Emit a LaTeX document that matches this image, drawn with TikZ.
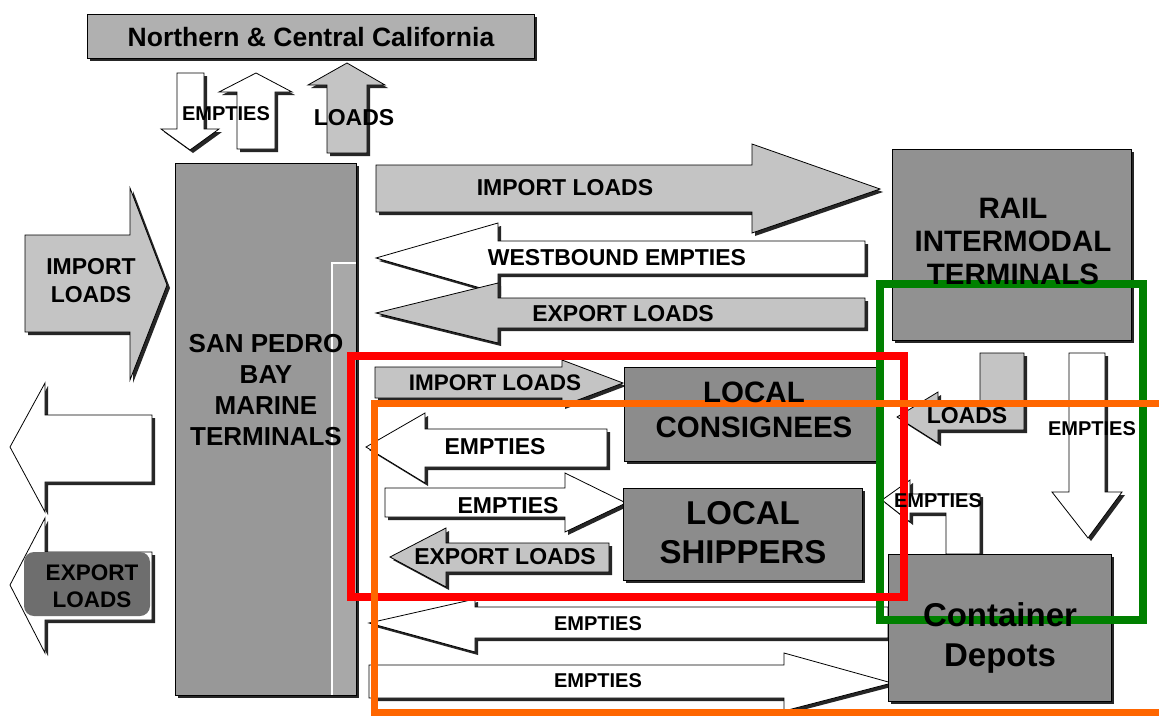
\documentclass[tikz,border=0pt]{standalone}
\usepackage{fontspec}
\setmainfont{Liberation Sans}
\usetikzlibrary{shadows}
\pgfdeclarelayer{fg}
\pgfsetlayers{main,fg}
\definecolor{topg}{RGB}{176,176,176}
\definecolor{spg}{RGB}{152,152,152}
\definecolor{spstrip}{RGB}{168,168,168}
\definecolor{argray}{RGB}{196,196,196}
\definecolor{boxgray}{RGB}{140,140,140}
\definecolor{railg}{RGB}{145,145,145}
\definecolor{blobg}{RGB}{110,110,110}
\definecolor{redf}{RGB}{255,0,0}
\definecolor{orangef}{RGB}{255,102,0}
\definecolor{greenf}{RGB}{0,128,0}
\tikzset{
  sh/.style={drop shadow={shadow xshift=3pt,shadow yshift=-3pt,opacity=1,fill=black!85}},
  boxg/.style={draw=black,line width=0.8pt,fill=#1,sh},
  arrw/.style={draw=black,line width=0.8pt,fill=white,sh},
  arrg/.style={draw=black,line width=0.8pt,fill=argray,sh},
  tx/.style args={#1/#2}{font=\bfseries\fontsize{#1}{#2}\selectfont,inner sep=0pt,align=center,text=black},
  frame/.style={draw=#1,line width=8pt}
}
\begin{document}
\begin{tikzpicture}[x=1pt,y=-1pt]
\useasboundingbox (0,0) rectangle (1159,715);
\fill[white] (0,0) rectangle (1159,715);

% ---------- top box
\draw[boxg=topg] (87,14) rectangle (534,58);

% ---------- vertical arrows under top box
\draw[arrw] (177,73) -- (204,73) -- (204,129) -- (219,129) -- (190,150) -- (161,129) -- (177,129) -- cycle;
\draw[arrw] (237,149) -- (237,92) -- (219,92) -- (256,73) -- (292,92) -- (275,92) -- (275,149) -- cycle;
\draw[arrg] (327,153) -- (327,85) -- (308,85) -- (347,63) -- (385,85) -- (367,85) -- (367,153) -- cycle;

% ---------- San Pedro Bay box
\draw[boxg=spg] (175,163) rectangle (356,695);
\fill[spstrip] (332,263) rectangle (356,695);
\draw[white,line width=1.2pt] (332,695) -- (332,263) -- (356,263);
\draw[black,line width=0.8pt] (175,163) rectangle (356,695);

% ---------- left arrows
\draw[arrg] (25,235) -- (130,235) -- (130,188) -- (167,285) -- (130,380) -- (130,332) -- (25,332) -- cycle;
\draw[arrw] (10,447) -- (45,383) -- (45,415) -- (152,415) -- (152,482) -- (45,482) -- (45,512) -- cycle;
\draw[arrw] (10,585) -- (45,518) -- (45,552) -- (152,552) -- (152,620) -- (45,620) -- (45,653) -- cycle;
\fill[blobg,rounded corners=10pt] (24,552) rectangle (150,616);

% ---------- rail terminal flows
\draw[arrg] (376,165) -- (752,165) -- (752,144) -- (880,189) -- (752,233) -- (752,212) -- (376,212) -- cycle;
\draw[arrw] (376,258) -- (498,223) -- (498,241) -- (865,241) -- (865,274) -- (498,274) -- (498,293) -- cycle;
\draw[arrg] (376,313) -- (498,283) -- (498,298) -- (865,298) -- (865,328) -- (498,328) -- (498,343) -- cycle;
\draw[boxg=railg] (892,149) rectangle (1131,340);

% ---------- local flows
\draw[arrg] (375,367) -- (562,367) -- (562,360) -- (623,383) -- (562,406) -- (562,398) -- (375,398) -- cycle;
\draw[arrw] (366,447) -- (425,413) -- (425,429) -- (607,429) -- (607,467) -- (425,467) -- (425,483) -- cycle;
\draw[arrw] (385,488) -- (565,488) -- (565,473) -- (626,503) -- (565,532) -- (565,517) -- (385,517) -- cycle;
\draw[arrg] (390,557) -- (446,528) -- (446,543) -- (609,543) -- (609,572) -- (446,572) -- (446,587) -- cycle;
\draw[boxg=boxgray] (624,367) rectangle (880,461);
\draw[boxg=boxgray] (623,488) rectangle (862,580);

% ---------- depot flows
\draw[arrw] (369,623) -- (475,599) -- (475,607) -- (888,607) -- (888,638) -- (475,638) -- (475,652) -- cycle;
\draw[arrw] (369,665) -- (784,665) -- (784,653) -- (892,683) -- (784,711) -- (784,698) -- (369,698) -- cycle;
\draw[arrg] (980,353) -- (1024,353) -- (1024,430) -- (938,430) -- (938,443) -- (897,417) -- (938,392) -- (938,405) -- (980,405) -- cycle;
\draw[arrw] (1069,353) -- (1105,353) -- (1105,492) -- (1122,492) -- (1088,538) -- (1052,492) -- (1069,492) -- cycle;
\draw[arrw] (946,554) -- (946,513) -- (910,513) -- (910,522) -- (882,500) -- (910,480) -- (910,494) -- (980,494) -- (980,554) -- cycle;
\draw[boxg=boxgray] (888,554) rectangle (1111,701);

% ---------- highlight frames
\draw[frame=greenf] (880,284) rectangle (1143,620);
\draw[frame=redf] (351,356) rectangle (904,597);
\draw[frame=orangef,line width=7pt] (374.5,403) -- (1175,403);
\draw[frame=orangef,line width=7pt] (374.5,399.5) -- (374.5,712) -- (1175,712);

% ---------- texts (on top of everything)
\begin{pgfonlayer}{fg}
\node[tx=26.5/31] (ncc) at (311,37) {Northern \& Central California};
\node[tx=20/24] (eTop) at (226,114) {EMPTIES};
\node[tx=23/27] (lTop) at (354,118) {LOADS};
\node[tx=26/31] (spb) at (266,390) {SAN PEDRO\\BAY\\MARINE\\TERMINALS};
\node[tx=23/28] (impL) at (91,281) {IMPORT\\LOADS};
\node[tx=22.5/27] (expL) at (92,586) {EXPORT\\LOADS};
\node[tx=23/27] (impT) at (565,188) {IMPORT LOADS};
\node[tx=23/27] (wbe) at (617,258) {WESTBOUND EMPTIES};
\node[tx=23/27] (expT) at (623,314) {EXPORT LOADS};
\node[tx=29.5/33] (rail) at (1013,241) {RAIL\\INTERMODAL\\TERMINALS};
\node[tx=22.5/27] (impS) at (495,383) {IMPORT LOADS};
\node[tx=23/27] (e2) at (495,447) {EMPTIES};
\node[tx=23/27] (e3) at (508,506) {EMPTIES};
\node[tx=23/27] (expS) at (505,557) {EXPORT LOADS};
\node[tx=29.5/35] (cons) at (754,410) {LOCAL\\CONSIGNEES};
\node[tx=33/39] (ship) at (743,533) {LOCAL\\SHIPPERS};
\node[tx=20/24] (e4) at (598,624) {EMPTIES};
\node[tx=20/24] (e5) at (598,681) {EMPTIES};
\node[tx=23/27] (lR) at (967,416) {LOADS};
\node[tx=20/24] (eR) at (1092,429) {EMPTIES};
\node[tx=20/24] (eB) at (938,501) {EMPTIES};
\node[tx=33/40] (dep) at (1000,638) {Container\\Depots};
\end{pgfonlayer}
\end{tikzpicture}
\end{document}
